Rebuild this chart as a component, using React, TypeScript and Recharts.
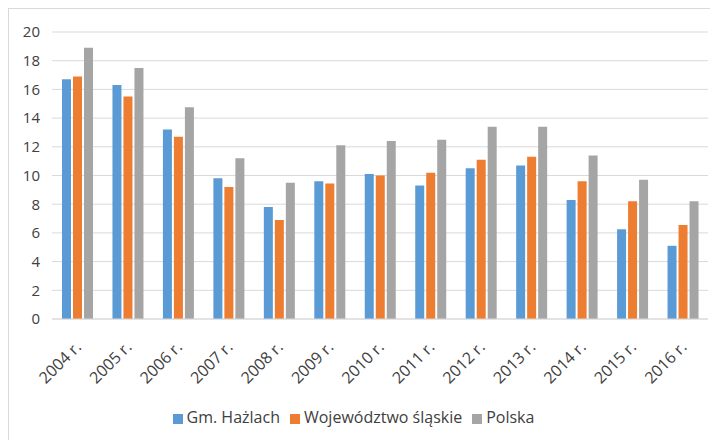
import React from 'react';
import {
  BarChart,
  Bar,
  XAxis,
  YAxis,
  CartesianGrid,
  Legend
} from 'recharts';

const years = ['2004 r.', '2005 r.', '2006 r.', '2007 r.', '2008 r.', '2009 r.', '2010 r.', '2011 r.', '2012 r.', '2013 r.', '2014 r.', '2015 r.', '2016 r.'];
const hazlach = [16.7, 16.3, 13.2, 9.8, 7.8, 9.6, 10.1, 9.3, 10.5, 10.7, 8.3, 6.25, 5.1];
const slaskie = [16.9, 15.5, 12.7, 9.2, 6.9, 9.45, 10.0, 10.2, 11.1, 11.3, 9.6, 8.2, 6.55];
const polska = [18.9, 17.5, 14.75, 11.2, 9.5, 12.1, 12.4, 12.5, 13.4, 13.4, 11.4, 9.7, 8.2];
const yTicks = [0, 2, 4, 6, 8, 10, 12, 14, 16, 18, 20];
const seriesNames = ['Gm. Hażlach', 'Województwo śląskie', 'Polska'];

const data = years.map((year, i) => ({
  year,
  hazlach: hazlach[i],
  slaskie: slaskie[i],
  polska: polska[i]
}));

const FONT = '"Open Sans", "DejaVu Sans", sans-serif';
const TEXT = '#404040';

const legendText = (value: string) => (
  <span style={{ color: TEXT, fontSize: 16, fontFamily: FONT }}>{value}</span>
);

const App: React.FC = () => {
  return (
    <div
      style={{
        width: 720,
        height: 440,
        border: '1px solid #d9d9d9',
        background: '#fff',
        fontFamily: FONT
      }}
    >
      <BarChart
        width={710}
        height={430}
        data={data}
        margin={{ top: 23, right: 11, left: 0, bottom: 11 }}
        barSize={9}
        barGap={2}
      >
        <CartesianGrid vertical={false} stroke="#d9d9d9" />
        <XAxis
          dataKey="year"
          height={87}
          interval={0}
          angle={-45}
          textAnchor="end"
          tickLine={false}
          tickSize={0}
          tickMargin={21}
          axisLine={{ stroke: '#d9d9d9' }}
          tick={{ fill: TEXT, fontSize: 16, fontFamily: FONT, dx: -3 }}
        />
        <YAxis
          width={43}
          domain={[0, 20]}
          ticks={yTicks}
          interval={0}
          tickLine={false}
          tickSize={0}
          tickMargin={12}
          axisLine={false}
          tick={{ fill: TEXT, fontSize: 15, fontFamily: FONT }}
        />
        <Legend
          verticalAlign="bottom"
          iconType="square"
          iconSize={10}
          itemSorter={(item: any) => seriesNames.indexOf(item.value)}
          formatter={legendText}
        />
        <Bar dataKey="hazlach" name={seriesNames[0]} fill="#5B9BD5" isAnimationActive={false} />
        <Bar dataKey="slaskie" name={seriesNames[1]} fill="#ED7D31" isAnimationActive={false} />
        <Bar dataKey="polska" name={seriesNames[2]} fill="#A5A5A5" isAnimationActive={false} />
      </BarChart>
    </div>
  );
};

export default App;
